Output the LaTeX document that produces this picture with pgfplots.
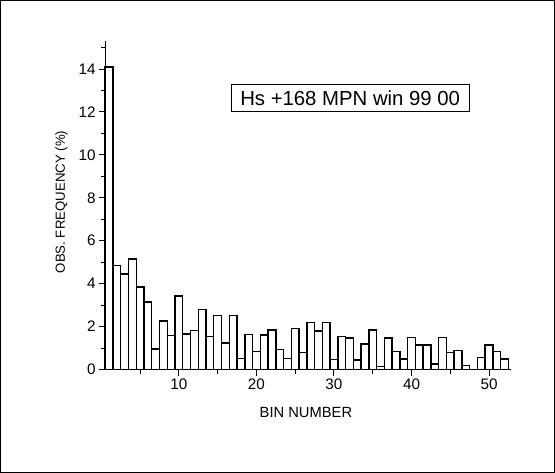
\documentclass[border=0pt]{standalone}
\usepackage{pgfplots}
\pgfplotsset{compat=1.18}
\usepackage{fontspec}
\setmainfont{Liberation Sans}
\begin{document}
\begin{tikzpicture}
\begin{axis}[
  scale only axis,
  width=399pt, height=323pt,
  xmin=0.5, xmax=52.8,
  ymin=0, ymax=15.3,
  axis lines*=left,
  axis line style={line width=1.2pt},
  every tick/.style={line width=1pt, black},
  tick align=outside,
  major tick length=6pt,
  minor tick length=4pt,
  xtick={10,20,30,40,50},
  minor xtick={5,15,25,35,45},
  ytick={0,2,4,6,8,10,12,14},
  minor ytick={1,3,5,7,9,11,13,15},
  /pgf/number format/assume math mode=true,
  tick label style={font=\fontsize{15}{17}\selectfont},
  xlabel={BIN NUMBER},
  ylabel={OBS. FREQUENCY (\%)},
  xlabel style={font=\fontsize{14.5}{16}\selectfont, at={(axis description cs:0.495,-0.13)}, anchor=center},
  ylabel style={font=\fontsize{13}{15}\selectfont, at={(axis description cs:-0.108,0.51)}, anchor=center},
  clip=false,
]
\addplot[ybar, bar width=1, fill=white, draw=black, line width=1.4pt] coordinates {
(1,14.1) (2,4.85) (3,4.45) (4,5.15) (5,3.85) (6,3.15) (7,0.96) (8,2.25) (9,1.58) (10,3.42)
(11,1.65) (12,1.83) (13,2.8) (14,1.55) (15,2.52) (16,1.23) (17,2.52) (18,0.5) (19,1.63) (20,0.85)
(21,1.6) (22,1.85) (23,0.92) (24,0.52) (25,1.9) (26,0.8) (27,2.2) (28,1.8) (29,2.2) (30,0.47)
(31,1.55) (32,1.47) (33,0.45) (34,1.18) (35,1.85) (36,0.15) (37,1.47) (38,0.85) (39,0.48) (40,1.5)
(41,1.15) (42,1.15) (43,0.25) (44,1.5) (45,0.8) (46,0.88) (47,0.18) (48,0) (49,0.55) (50,1.15)
(51,0.85) (52,0.48)
};
\node[draw=black, line width=1pt, fill=white, inner xsep=9pt, minimum height=27pt,
  font=\fontsize{20}{22}\selectfont] at (rel axis cs:0.604,0.827) {Hs +168 MPN win 99 00};
\end{axis}
\draw[line width=1pt] (-103pt,-101pt) rectangle (442pt,363pt);
\end{tikzpicture}
\end{document}
